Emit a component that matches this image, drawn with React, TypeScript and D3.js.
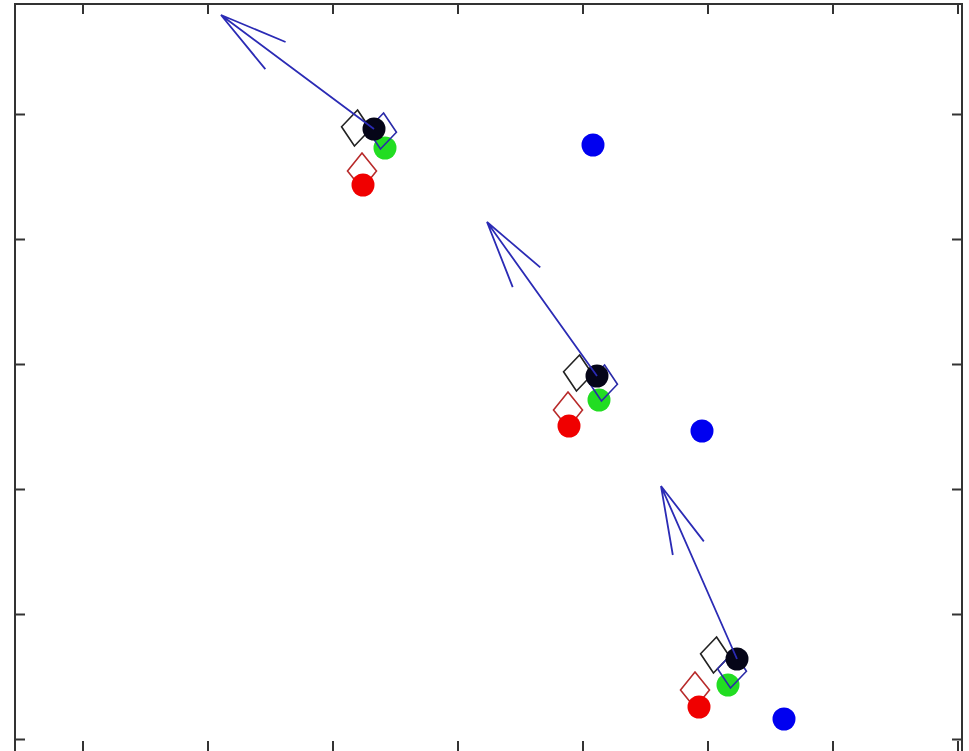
import { useEffect, useRef } from 'react';
import * as d3 from 'd3';

// tick positions (no labels in the source figure)
const xTicks = [1, 2, 3, 4, 5, 6, 7, 8];
const yTicks = [1, 2, 3, 4, 5, 6];

// three groups, one point per group in each series
const redCircle = [{ x: 3.24, y: 5.436 }, { x: 4.888, y: 3.508 }, { x: 5.928, y: 1.26 }];
const greenCircle = [{ x: 3.416, y: 5.732 }, { x: 5.128, y: 3.716 }, { x: 6.16, y: 1.436 }];
const blueCircle = [{ x: 5.08, y: 5.756 }, { x: 5.952, y: 3.468 }, { x: 6.608, y: 1.164 }];
const blackCircle = [{ x: 3.328, y: 5.884 }, { x: 5.112, y: 3.908 }, { x: 6.232, y: 1.644 }];
const redDiamond = [{ x: 3.232, y: 5.548 }, { x: 4.88, y: 3.636 }, { x: 5.896, y: 1.396 }];
const blackDiamond = [{ x: 3.184, y: 5.892 }, { x: 4.96, y: 3.932 }, { x: 6.056, y: 1.676 }];
const blueDiamond = [{ x: 3.392, y: 5.868 }, { x: 5.16, y: 3.852 }, { x: 6.192, y: 1.556 }];
const arrowTip = [{ x: 2.104, y: 6.796 }, { x: 4.232, y: 5.14 }, { x: 5.624, y: 3.028 }];

type P = { x: number; y: number };

export default function App() {
  const ref = useRef<SVGSVGElement | null>(null);
  useEffect(() => {
    const W = 969, H = 751;
    const svg = d3.select(ref.current!);
    svg.selectAll('*').remove();
    svg.attr('viewBox', `0 0 ${W} ${H}`);
    svg.append('rect').attr('width', W).attr('height', H).attr('fill', '#fff');

    const left = 15, right = 962, top = 4, bottom = 754;
    const x = d3.scaleLinear().domain([0.456, 8.032]).range([left, right]);
    const y = d3.scaleLinear().domain([0.884, 6.884]).range([bottom, top]);

    const g = svg.append('g');

    const diamond = (sel: d3.Selection<SVGGElement, unknown, null, undefined>, data: P[], color: string, rot: number) => {
      sel.selectAll(null).data(data).enter().append('path')
        .attr('d', 'M0,-18L14.5,0L0,18L-14.5,0Z')
        .attr('transform', (d) => `translate(${x(d.x)},${y(d.y)}) rotate(${rot})`)
        .attr('fill', 'none').attr('stroke', color).attr('stroke-width', 1.6);
    };
    const circle = (sel: d3.Selection<SVGGElement, unknown, null, undefined>, data: P[], color: string) => {
      sel.selectAll(null).data(data).enter().append('circle')
        .attr('cx', (d) => x(d.x)).attr('cy', (d) => y(d.y)).attr('r', 11.5).attr('fill', color);
    };

    diamond(g, redDiamond, '#b82a2a', 0);
    diamond(g, blackDiamond, '#222', 5);
    circle(g, redCircle, '#f00000');
    circle(g, greenCircle, '#22dd22');
    circle(g, blueCircle, '#0000f0');
    diamond(g, blueDiamond, '#2a2aa8', 5);
    circle(g, blackCircle, '#050518');

    // arrows: from the black circle to the tip
    const headLen = 70, headAng = (14 * Math.PI) / 180;
    blackCircle.forEach((b, i) => {
      const t = arrowTip[i];
      const x0 = x(b.x), y0 = y(b.y), x1 = x(t.x), y1 = y(t.y);
      const a = Math.atan2(y0 - y1, x0 - x1);
      const path = d3.path();
      path.moveTo(x0, y0); path.lineTo(x1, y1);
      path.moveTo(x1 + headLen * Math.cos(a - headAng), y1 + headLen * Math.sin(a - headAng));
      path.lineTo(x1, y1);
      path.lineTo(x1 + headLen * Math.cos(a + headAng), y1 + headLen * Math.sin(a + headAng));
      g.append('path').attr('d', path.toString()).attr('fill', 'none')
        .attr('stroke', '#2b2bb5').attr('stroke-width', 1.8);
    });

    // box and inward ticks
    const frame = svg.append('g').attr('stroke', '#333').attr('stroke-width', 2).attr('fill', 'none');
    frame.append('rect').attr('x', left).attr('y', top).attr('width', right - left).attr('height', bottom - top);
    const tl = 10;
    xTicks.forEach((v) => {
      frame.append('line').attr('x1', x(v)).attr('x2', x(v)).attr('y1', top).attr('y2', top + tl);
      frame.append('line').attr('x1', x(v)).attr('x2', x(v)).attr('y1', bottom).attr('y2', bottom - 13);
    });
    yTicks.forEach((v) => {
      frame.append('line').attr('x1', left).attr('x2', left + tl).attr('y1', y(v)).attr('y2', y(v));
      frame.append('line').attr('x1', right).attr('x2', right - tl).attr('y1', y(v)).attr('y2', y(v));
    });
  }, []);
  return <svg ref={ref} width={969} height={751} style={{ position: 'absolute', left: 0, top: 0 }} />;
}
